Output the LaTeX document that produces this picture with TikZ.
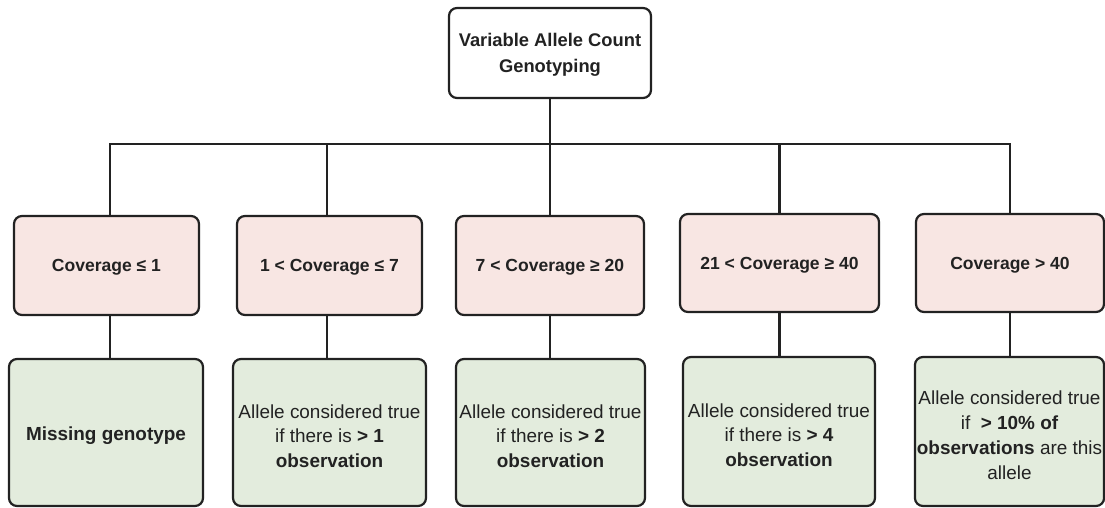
\documentclass[tikz,border=0pt]{standalone}
\usepackage{fontspec}
\setmainfont{Liberation Sans}
\definecolor{ink}{HTML}{222222}
\definecolor{pinkf}{HTML}{F8E6E3}
\definecolor{greenf}{HTML}{E3ECDD}
\newcommand{\gup}{\rule{0pt}{21bp}}
\tikzset{
  basebox/.style={draw=ink, line width=2.2bp, rounded corners=8bp, align=center, text=ink, inner sep=2bp},
  topbox/.style={basebox, fill=white, font=\fontsize{18.4}{26}\selectfont\bfseries},
  pinkbox/.style={basebox, fill=pinkf, font=\fontsize{17.6}{22}\selectfont\bfseries},
  greenbox/.style={basebox, fill=greenf, font=\fontsize{19}{25}\selectfont},
  conn/.style={draw=ink, line width=2.2bp}
}
\begin{document}
\begin{tikzpicture}[x=1bp,y=-1bp]
\useasboundingbox (0,0) rectangle (1105,508);
% top
\node[topbox, minimum width=202bp, minimum height=90bp] (top) at (550,53) {\rule{0pt}{17bp}Variable Allele Count\\Genotyping};
% pink row
\node[pinkbox, minimum width=185bp, minimum height=99bp] (p1) at (106.5,265.5) {\rule{0pt}{16bp}Coverage ≤ 1};
\node[pinkbox, minimum width=185bp, minimum height=99bp] (p2) at (329.5,265.5) {\rule{0pt}{16bp}1 < Coverage ≤ 7};
\node[pinkbox, minimum width=188bp, minimum height=99bp] (p3) at (550,265.5) {\rule{0pt}{16bp}7 < Coverage ≥ 20};
\node[pinkbox, minimum width=199bp, minimum height=98bp] (p4) at (779.5,263) {\rule{0pt}{16bp}21 < Coverage ≥ 40};
\node[pinkbox, minimum width=188bp, minimum height=98bp] (p5) at (1010,263) {\rule{0pt}{16bp}Coverage > 40};
% green row
\node[greenbox, minimum width=194bp, minimum height=147bp] (g1) at (106,432.5) {\gup\bfseries Missing genotype};
\node[greenbox, minimum width=193bp, minimum height=147bp] (g2) at (329.5,432.5) {\gup Allele considered true\\if there is \textbf{> 1}\\\textbf{observation}};
\node[greenbox, minimum width=189bp, minimum height=147bp] (g3) at (550.5,432.5) {\gup Allele considered true\\if there is \textbf{> 2}\\\textbf{observation}};
\node[greenbox, minimum width=192bp, minimum height=149bp] (g4) at (779,431.5) {\gup Allele considered true\\if there is \textbf{> 4}\\\textbf{observation}};
\node[greenbox, minimum width=189bp, minimum height=149bp] (g5) at (1009.5,431.5) {\gup Allele considered true\\if \ \textbf{> 10\% of}\\\textbf{observations} are this\\allele};
% connectors
\coordinate (j) at (550,144);
\draw[conn] (top.south) -- (j);
\draw[conn] (p1.north -| 110,0) |- (j) -| (p5.north);
\draw[conn] (p2.north -| 327,0) -- (327,144);
\draw[conn] (p3.north) -- (j);
\draw[conn] (p4.north) -- (p4.north |- j);
\draw[conn] (p1.south -| 110,0) -- (g1.north -| 110,0);
\draw[conn] (p2.south -| 327,0) -- (g2.north -| 327,0);
\draw[conn] (p3.south) -- (g3.north -| p3.south);
\draw[conn] (p4.south) -- (g4.north -| p4.south);
\draw[conn] (p5.south) -- (g5.north -| p5.south);
\end{tikzpicture}
\end{document}
